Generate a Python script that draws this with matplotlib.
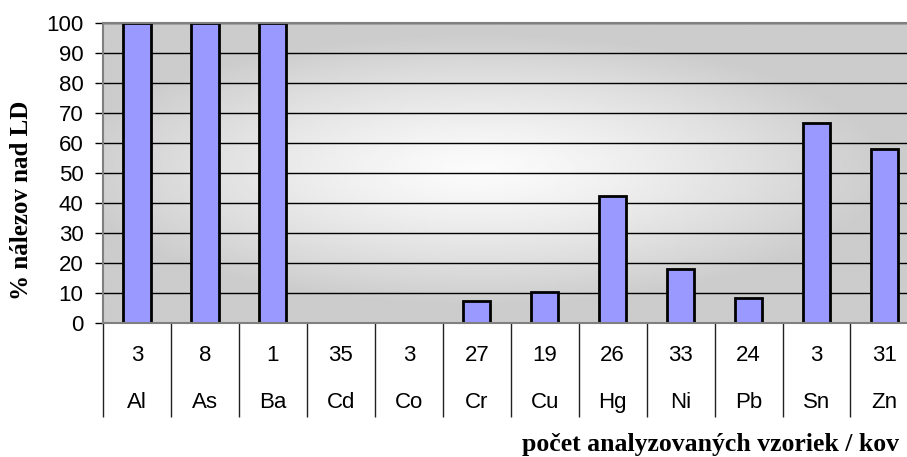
import matplotlib
matplotlib.use("Agg")
import matplotlib.pyplot as plt
import numpy as np

# data
metals = ["Al", "As", "Ba", "Cd", "Co", "Cr", "Cu", "Hg", "Ni", "Pb", "Sn", "Zn"]
samples = [3, 8, 1, 35, 3, 27, 19, 26, 33, 24, 3, 31]
pct_above_ld = [100, 100, 100, 0, 0, 7.4, 10.5, 42.3, 18.2, 8.3, 66.7, 58.1]

plt.rcParams['font.family'] = ['Liberation Sans', 'DejaVu Sans']

fig = plt.figure(figsize=(9.07, 4.57), dpi=100)
ax = fig.add_axes([0.1136, 0.2926, 0.899, 0.6577])

# background gradient (light centre, grey edges)
gx = np.linspace(-1, 1, 400)
gy = np.linspace(-1, 1, 200)
GX, GY = np.meshgrid(gx, gy)
d = np.sqrt(((GX + 0.08) / 1.0) ** 2 + ((GY + 0.02) / 0.9) ** 2)
d = np.clip(d, 0, 1) ** 1.3
shade = 0.985 - (0.985 - 0.8) * d
ax.imshow(shade, extent=[-0.5, 11.5, 0, 100], aspect='auto', cmap='gray',
          vmin=0, vmax=1, zorder=0, interpolation='bilinear')

x = np.arange(len(metals))
ax.bar(x, pct_above_ld, width=0.4, color='#9999FF', edgecolor='black',
       linewidth=2, zorder=2)

ax.set_xlim(-0.5, 11.5)
ax.set_ylim(0, 100)
ax.set_yticks(np.arange(0, 101, 10))
ax.tick_params(axis='y', labelsize=16, length=6, width=1, pad=8, color='black')
ax.set_axisbelow(True)
ax.grid(axis='y', color='black', linewidth=1)

# category dividers of the data table below the plot
ax.set_xticks(np.arange(-0.5, 12, 1))
ax.set_xticklabels([])
ax.tick_params(axis='x', direction='out', length=68, width=1, color='#222222')

for side in ['left', 'top', 'bottom', 'right']:
    ax.spines[side].set_color('#808080')
    ax.spines[side].set_linewidth(1.5)

for i in range(len(metals)):
    ax.text(i, -0.106, str(samples[i]), transform=ax.get_xaxis_transform(),
            ha='center', va='center', fontsize=16)
    ax.text(i, -0.262, metals[i], transform=ax.get_xaxis_transform(),
            ha='center', va='center', fontsize=16)

fig.text(22 / 907, 1 - 200 / 457, "% nálezov nad LD", rotation=90,
         ha='center', va='center', fontsize=18, fontweight='bold',
         family=['Liberation Serif', 'DejaVu Serif'])
fig.text(710 / 907, 1 - 445 / 457, "počet analyzovaných vzoriek / kov",
         ha='center', va='center', fontsize=18.5, fontweight='bold',
         family=['Liberation Serif', 'DejaVu Serif'])

fig.savefig("out.png", dpi=100)
